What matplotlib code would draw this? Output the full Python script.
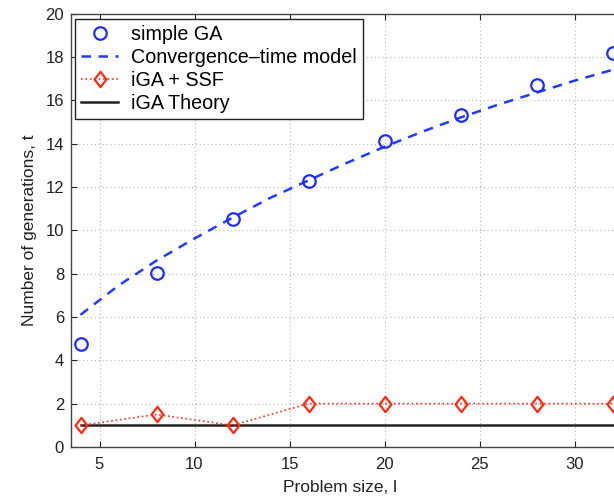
import matplotlib
matplotlib.use("Agg")
import matplotlib.pyplot as plt
from matplotlib.path import Path

plt.rcParams['font.family'] = ['Liberation Sans', 'DejaVu Sans']

# Data
problem_size = [4, 8, 12, 16, 20, 24, 28, 32]
simple_ga = [4.77, 8.05, 10.52, 12.28, 14.1, 15.32, 16.69, 18.2]
model_x = [4, 6, 8, 10, 12, 14, 16, 18, 20, 22, 24, 26, 28, 30, 32]
model_y = [6.1, 7.45, 8.6, 9.62, 10.58, 11.5, 12.3, 13.1, 13.85, 14.55, 15.2, 15.8, 16.35, 16.9, 17.4]
iga_ssf = [1.0, 1.5, 1.0, 2.0, 2.0, 2.0, 2.0, 2.0]
iga_theory = [1, 1, 1, 1, 1, 1, 1, 1]
xticks = [5, 10, 15, 20, 25, 30]
yticks = [0, 2, 4, 6, 8, 10, 12, 14, 16, 18, 20]

diamond = Path([(0, 1), (0.78, 0), (0, -1), (-0.78, 0), (0, 1)],
               [Path.MOVETO, Path.LINETO, Path.LINETO, Path.LINETO, Path.CLOSEPOLY])

W, H = 614, 499
fig = plt.figure(figsize=(W / 100, H / 100), dpi=100)
left_px, right_px, top_px, bottom_px = 71, 622, 13.5, 447
ax = fig.add_axes([left_px / W, 1 - bottom_px / H, (right_px - left_px) / W, (bottom_px - top_px) / H])

ax.plot(problem_size, simple_ga, linestyle='none', marker='o', markersize=9,
        markerfacecolor='none', markeredgecolor='#1f2cff', markeredgewidth=1.6,
        label='simple GA', clip_on=False, zorder=4)
ax.plot(model_x, model_y, linestyle=(0, (3.8, 3)), color='#1f3cff', linewidth=1.8,
        label='Convergence\u2013time model', zorder=3)
ax.plot(problem_size, iga_ssf, linestyle=':', color='#ff3020', linewidth=1.2,
        marker=diamond, markersize=11, markerfacecolor='none', markeredgecolor='#ff2a10',
        markeredgewidth=1.6, label='iGA + SSF', clip_on=False, zorder=4)
ax.plot(problem_size, iga_theory, linestyle='-', color='#222222', linewidth=1.8,
        label='iGA Theory', zorder=3)

ax.set_xlim(3.5, 32.5)
ax.set_ylim(0, 20)
ax.set_xticks(xticks)
ax.set_yticks(yticks)
ax.tick_params(direction='in', top=True, right=True, length=4, width=0.8,
               labelsize=12, colors='#222222')
ax.tick_params(axis='x', pad=7)
ax.tick_params(axis='y', pad=5)
ax.grid(True, linestyle=(0, (1, 2.5)), color='#b8b8b8', linewidth=0.8)
for s in ax.spines.values():
    s.set_color('#444444')
    s.set_linewidth(1.0)

ax.set_xlabel('Problem size, l', fontsize=12.5, color='#222222')
ax.set_ylabel('Number of generations, t', fontsize=12.5, color='#222222')
ax.xaxis.set_label_coords((340 - left_px) / (right_px - left_px), -0.075)
ax.yaxis.set_label_coords(-(left_px - 37) / (right_px - left_px), 0.5)

leg = ax.legend(loc='upper left', bbox_to_anchor=((75 - left_px) / (right_px - left_px), (bottom_px - 19) / (bottom_px - top_px)),
                fontsize=14.2, frameon=True, fancybox=False, framealpha=1,
                edgecolor='#222222', handlelength=1.9, handletextpad=0.65,
                borderpad=0.3, labelspacing=0.2, borderaxespad=0)
leg.get_frame().set_linewidth(1.0)

fig.savefig('out.png', dpi=100)
